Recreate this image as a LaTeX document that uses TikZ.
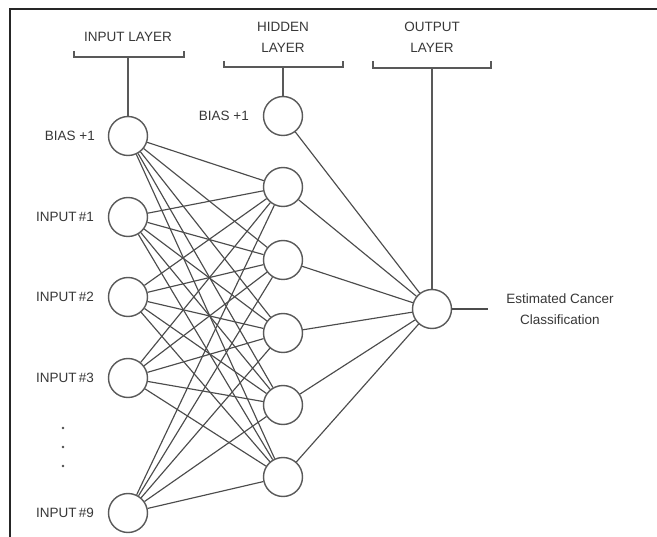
\documentclass[tikz,border=0pt]{standalone}
\usepackage{fontspec}
\setmainfont{Liberation Sans}
\begin{document}
\begin{tikzpicture}[x=1pt,y=-1pt,
  neuron/.style={circle,draw=black!65,line width=1.4pt,minimum size=39pt,inner sep=0pt,fill=white},
  lbl/.style={text=black!78,font=\fontsize{13.5}{21}\selectfont,inner sep=0pt},
  wire/.style={draw=black!70,line width=1.15pt},
  brk/.style={draw=black!65,line width=1.3pt}]
\useasboundingbox (0,0) rectangle (657,537);
\fill[white] (0,0) rectangle (657,537);
% frame
\draw[line width=1.6pt,black!85] (10,537) -- (10,9) -- (657,9);
% input nodes
\node[neuron] (ib) at (128,136) {};
\node[neuron] (i1) at (128,217) {};
\node[neuron] (i2) at (128,297) {};
\node[neuron] (i3) at (128,378) {};
\node[neuron] (i9) at (128,513) {};
% hidden nodes
\node[neuron] (hb) at (283,116) {};
\node[neuron] (h1) at (283,187) {};
\node[neuron] (h2) at (283,260) {};
\node[neuron] (h3) at (283,333) {};
\node[neuron] (h4) at (283,405) {};
\node[neuron] (h5) at (283,477) {};
% output node
\node[neuron] (o) at (432,309) {};
% labels
\node[lbl,anchor=east] at (95,136) {BIAS +1};
\node[lbl,anchor=east] at (94,217) {INPUT\,\#1};
\node[lbl,anchor=east] at (94,297) {INPUT\,\#2};
\node[lbl,anchor=east] at (94,378) {INPUT\,\#3};
\node[lbl,anchor=east] at (94,513) {INPUT\,\#9};
\node[lbl,anchor=east] at (249,116) {BIAS +1};
\node[lbl] (tin) at (128,37) {INPUT LAYER};
\node[lbl,align=center] (thid) at (283,37) {HIDDEN\\LAYER};
\node[lbl,align=center] (tout) at (432,37) {OUTPUT\\LAYER};
\node[lbl,align=center] (est) at (560,309) {Estimated Cancer\\Classification};
% dots
\foreach \y in {428,447,466} \fill[black!70] (63,\y) circle (1.3pt);
% brackets
\draw[brk] (74,51) -- (74,57) -- (184,57) -- (184,51);
\draw[brk] (224,61) -- (224,67) -- (343,67) -- (343,61);
\draw[brk] (373,61) -- (373,68) -- (491,68) -- (491,61);
\coordinate (bi) at (128,57);
\coordinate (bh) at (283,67);
\coordinate (bo) at (432,68);
\coordinate (oend) at (488,309);
\draw[brk] (bi) -- (ib);
\draw[brk] (bh) -- (hb);
\draw[brk] (bo) -- (o);
% connections
\foreach \i in {ib,i1,i2,i3,i9}
  \foreach \h in {h1,h2,h3,h4,h5}
    \draw[wire] (\i) -- (\h);
\foreach \h in {hb,h1,h2,h3,h4,h5}
  \draw[wire] (\h) -- (o);
\draw[wire] (o) -- (oend);
\end{tikzpicture}
\end{document}
